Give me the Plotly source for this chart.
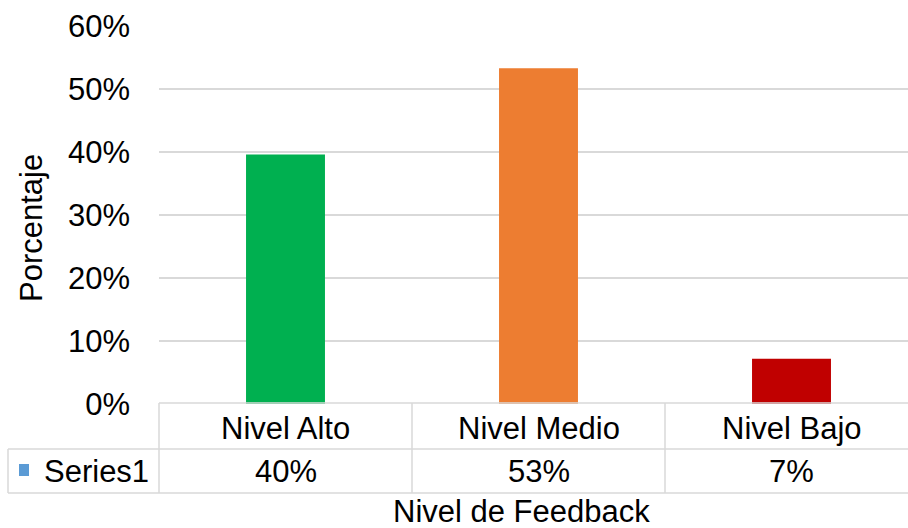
import plotly.graph_objects as go

# Data
categories = ["Nivel Alto", "Nivel Medio", "Nivel Bajo"]
values = [0.396, 0.533, 0.072]
bar_colors = ["#00b050", "#ed7d31", "#c00000"]
series_name = "Series1"
y_ticks = [0, 0.1, 0.2, 0.3, 0.4, 0.5, 0.6]

FONT = "Liberation Sans, Arial, sans-serif"
GRID = "#d9d9d9"
W, H = 908, 528
L, T, B = 159, 26, 124
plot_w = W - L
plot_h = H - T - B
col_px = 253  # width of one category column in pixels


def py(p):
    # pixel row -> paper y
    return (H - B - p) / plot_h


def px(p):
    # pixel column -> paper x
    return (p - L) / plot_w


fig = go.Figure()
fig.add_trace(go.Bar(x=categories, y=values, marker_color=bar_colors,
                     marker_line_width=0, width=0.312, name=series_name,
                     hovertemplate="%{x}: %{y:.0%}<extra></extra>"))

# Data table under the plot
line = dict(color=GRID, width=1.5)
shapes = []
n = len(categories)
y_top, y_mid, y_bot = py(403), py(449), py(493)
shapes.append(dict(type="line", xref="paper", yref="paper", x0=0, x1=1, y0=y_top, y1=y_top, line=line))
for yy in (y_mid, y_bot):
    shapes.append(dict(type="line", xref="paper", yref="paper", x0=px(8), x1=1, y0=yy, y1=yy, line=line))
shapes.append(dict(type="line", xref="paper", yref="paper", x0=px(8), x1=px(8), y0=y_mid, y1=y_bot, line=line))
shapes.append(dict(type="line", xref="paper", yref="paper", x0=0, x1=0, y0=y_top, y1=y_bot, line=line))
for i in range(n - 1):
    xx = px(L + col_px * (i + 1))
    shapes.append(dict(type="line", xref="paper", yref="paper", x0=xx, x1=xx, y0=y_top, y1=y_bot, line=line))
# legend key square
shapes.append(dict(type="rect", xref="paper", yref="paper", x0=px(19), x1=px(29),
                   y0=py(476), y1=py(464), fillcolor="#5b9bd5", line_width=0))

font = dict(family=FONT, size=31, color="#000000")
common = dict(showarrow=False, font=font, yanchor="middle")
annotations = []
for c, v in zip(categories, values):
    annotations.append(dict(x=c, xref="x", y=py(428), yref="paper", text=c,
                            xanchor="center", **common))
    annotations.append(dict(x=c, xref="x", y=py(471), yref="paper", text=f"{v:.0%}",
                            xanchor="center", **common))
annotations.append(dict(x=px(42), xref="paper", y=py(471), yref="paper", text=series_name,
                        xanchor="left", **common))
annotations.append(dict(x=px(521), xref="paper", y=py(511), yref="paper", text="Nivel de Feedback",
                        xanchor="center", **common))
annotations.append(dict(x=px(31), xref="paper", y=py(228), yref="paper", text="Porcentaje",
                        textangle=-90, xanchor="center", **common))

fig.update_layout(
    width=W, height=H,
    margin=dict(l=L, r=0, t=T, b=B),
    paper_bgcolor="white", plot_bgcolor="white",
    showlegend=False,
    font=font,
    shapes=shapes,
    annotations=annotations,
    xaxis=dict(type="category", range=[-0.5, -0.5 + plot_w / col_px],
               showticklabels=False, showgrid=False, zeroline=False, showline=False),
    yaxis=dict(range=[0, 0.6], tickvals=y_ticks, tickformat=".0%",
               showgrid=True, gridcolor=GRID, gridwidth=1.5, zeroline=False,
               showline=False, ticklabelstandoff=28, tickfont=font),
)

# remove the default page margin so the figure sits at the window's corner
fig.write_html("out.html", config={"displayModeBar": False},
               post_script="document.body.style.margin='0';")
